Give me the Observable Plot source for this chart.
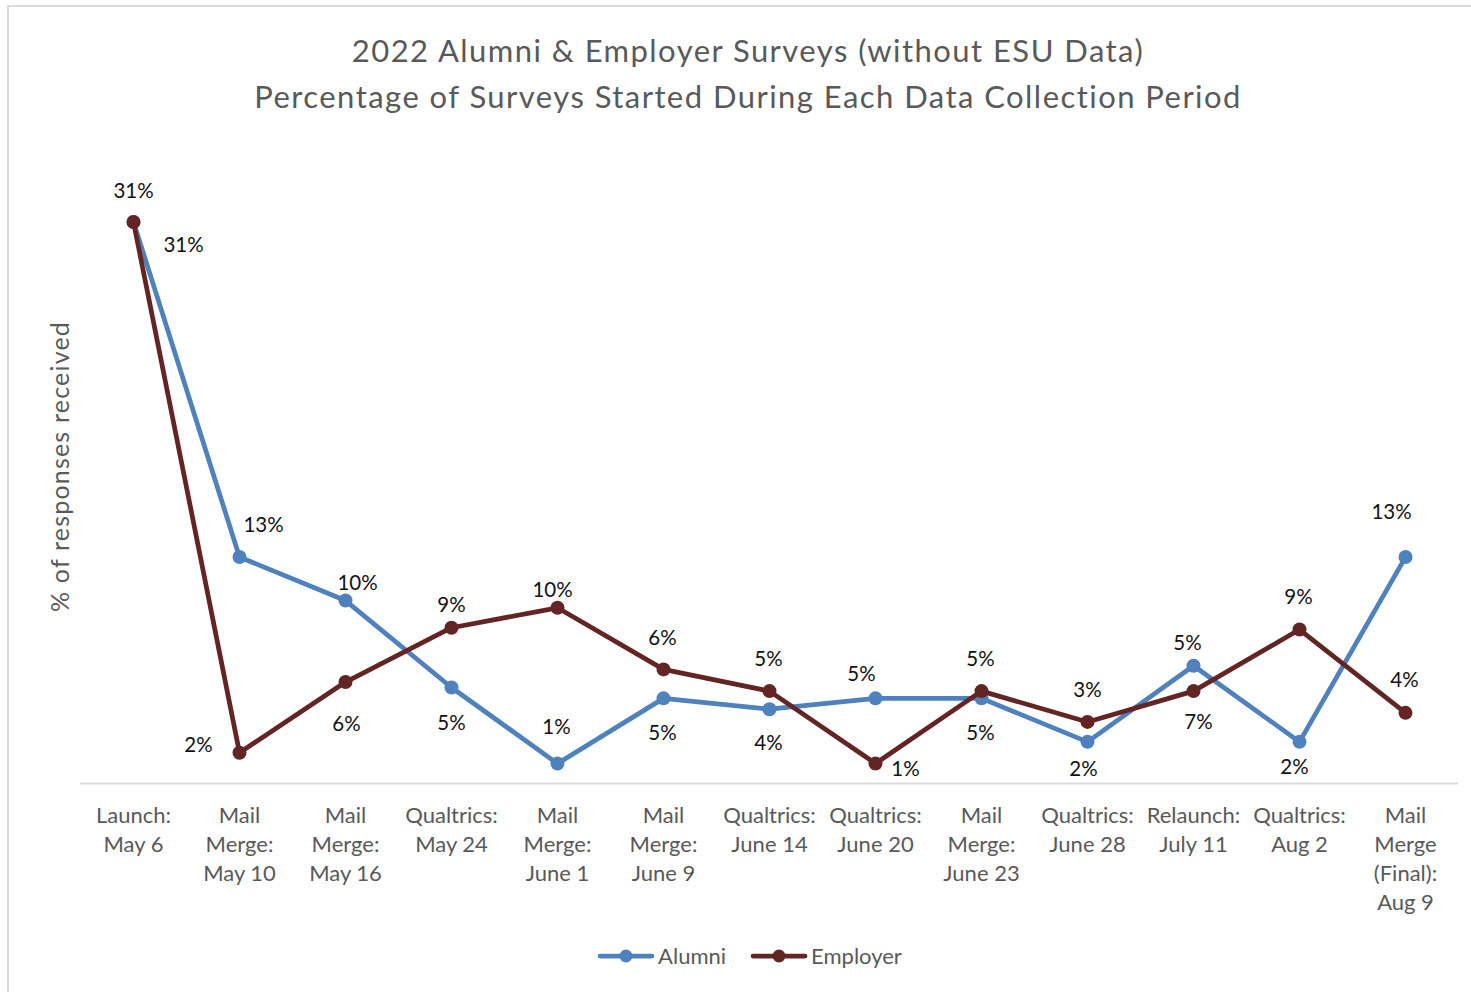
<!DOCTYPE html>
<html>
<head>
<meta charset="utf-8">
<script src="https://cdn.jsdelivr.net/npm/d3@7"></script>
<script src="https://cdn.jsdelivr.net/npm/@observablehq/plot@0.6"></script>
<style>
  html, body { margin: 0; padding: 0; background: #fff; }
  body { width: 1471px; height: 992px; position: relative; overflow: hidden; font-family: Lato, "Open Sans", sans-serif; }
  #frame { position: absolute; left: 7px; top: 5px; width: 1500px; height: 1100px; border-left: 2px solid #d9d9d9; border-top: 2px solid #d9d9d9; box-sizing: border-box; }
  #title { position: absolute; left: 0; top: 27px; width: 1471px; padding-left: 25px; box-sizing: border-box; text-align: center; font-size: 31px; letter-spacing: 1.45px; line-height: 46px; color: #595959; }
  #chart { position: absolute; left: 0; top: 130px; }
  #legend { position: absolute; top: 942px; left: 0; width: 1471px; padding-left: 28px; box-sizing: border-box; display: flex; justify-content: center; gap: 24px; font-size: 22px; color: #595959; }
  .item { display: flex; align-items: center; gap: 3px; }
</style>
</head>
<body>
<div id="frame"></div>
<div id="title">2022 Alumni &amp; Employer Surveys (without ESU Data)<br>Percentage of Surveys Started During Each Data Collection Period</div>
<div id="chart"></div>
<div id="legend"></div>
<script>
const categories = [
  "Launch:\nMay 6", "Mail\nMerge:\nMay 10", "Mail\nMerge:\nMay 16", "Qualtrics:\nMay 24",
  "Mail\nMerge:\nJune 1", "Mail\nMerge:\nJune 9", "Qualtrics:\nJune 14", "Qualtrics:\nJune 20",
  "Mail\nMerge:\nJune 23", "Qualtrics:\nJune 28", "Relaunch:\nJuly 11", "Qualtrics:\nAug 2",
  "Mail\nMerge\n(Final):\nAug 9"
];
const alumni   = [31.0, 12.5, 10.1, 5.3, 1.1, 4.7, 4.1, 4.7, 4.7, 2.3, 6.5, 2.3, 12.5];
const employer = [31.0, 1.7, 5.6, 8.6, 9.7, 6.3, 5.1, 1.1, 5.1, 3.4, 5.1, 8.5, 3.9];
const alumniLabels   = ["31%","13%","10%","5%","1%","5%","4%","5%","5%","2%","5%","2%","13%"];
const employerLabels = ["31%","2%","6%","9%","10%","6%","5%","1%","5%","3%","7%","9%","4%"];
const seriesNames = ["Alumni", "Employer"];
const yLabel = "% of responses received";

// label placement (pixel offsets from each point), styling only
const alumniLabelOffset = [[0,-31],[24,-32],[12,-17],[0,36],[-1,-36],[-1,35],[-1,34],[-14,-24],[-1,35],[-4,28],[-6,-22],[-5,26],[-14,-45]];
const employerLabelOffset = [[50,23],[-41,-7],[1,42],[0,-22],[-5,-17],[-1,-31],[-1,-32],[30,6],[-1,-32],[0,-31],[5,31],[-1,-32],[-1,-32]];

const colors = {Alumni: "#4f81bd", Employer: "#632523"};

const alumniRows = categories.map((c, i) => ({cat: c, v: alumni[i], label: alumniLabels[i], off: alumniLabelOffset[i]}));
const employerRows = categories.map((c, i) => ({cat: c, v: employer[i], label: employerLabels[i], off: employerLabelOffset[i]}));

function seriesMarks(rows, color) {
  return [
    Plot.line(rows, {x: "cat", y: "v", stroke: color, strokeWidth: 4.75, strokeLinejoin: "round", strokeLinecap: "round"}),
    Plot.dot(rows, {x: "cat", y: "v", r: 7, fill: color, stroke: "none"})
  ];
}
function labelMarks(rows) {
  return rows.map(d => Plot.text([d], {x: "cat", y: "v", text: "label", dx: d.off[0], dy: d.off[1], fontSize: 20.5, fill: "#111"}));
}

const chart = Plot.plot({
  width: 1471,
  height: 793,
  marginLeft: 80,
  marginRight: 13,
  marginTop: 19,
  marginBottom: 140,
  style: {fontFamily: "Lato, 'Open Sans', sans-serif", background: "transparent", overflow: "visible"},
  x: {type: "point", domain: categories, padding: 0.5, axis: null},
  y: {domain: [0, 35], axis: null},
  marks: [
    Plot.ruleY([0], {stroke: "#d9d9d9", strokeWidth: 2}),
    ...seriesMarks(alumniRows, colors.Alumni),
    ...seriesMarks(employerRows, colors.Employer),
    ...labelMarks(alumniRows),
    ...labelMarks(employerRows),
    Plot.axisX({tickSize: 0, tickPadding: 19, fontSize: 22, fill: "#595959", lineHeight: 1.32, label: null}),
    Plot.text([yLabel], {frameAnchor: "left", textAnchor: "middle", rotate: -90, dx: -20, fontSize: 25, fill: "#595959"})
  ]
});
document.getElementById("chart").appendChild(chart);
chart.querySelectorAll("text").forEach(t => { if (t.textContent === yLabel) t.setAttribute("letter-spacing", "1.2"); });

const legend = document.getElementById("legend");
for (const name of seriesNames) {
  const item = document.createElement("div");
  item.className = "item";
  const c = colors[name];
  item.innerHTML = `<svg width="58" height="16"><line x1="3" y1="8" x2="55" y2="8" stroke="${c}" stroke-width="4.75" stroke-linecap="round"/><circle cx="29" cy="8" r="6.5" fill="${c}"/></svg><span>${name}</span>`;
  legend.appendChild(item);
}
</script>
</body>
</html>
